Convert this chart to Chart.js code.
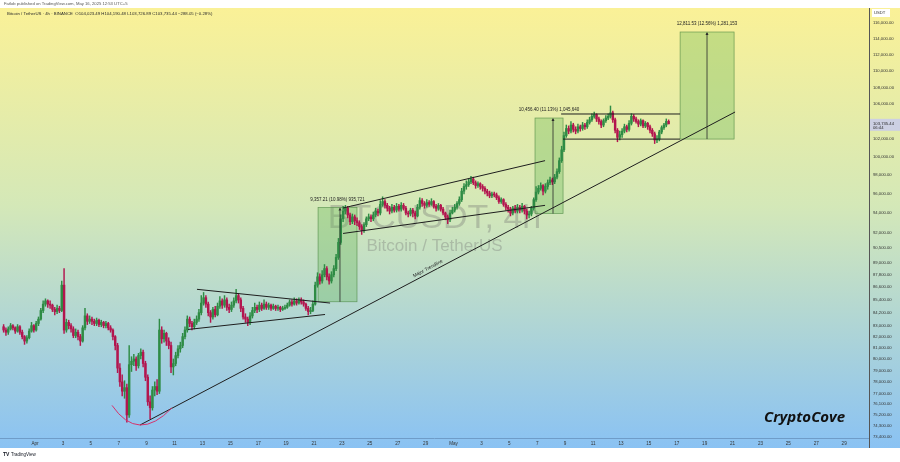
<!DOCTYPE html>
<html>
<head>
<meta charset="utf-8">
<title>BTCUSDT 4h</title>
<script src="https://cdn.jsdelivr.net/npm/chart.js@4.4.1/dist/chart.umd.min.js"></script>
<style>
  html, body { margin: 0; padding: 0; background: #fff; }
  canvas { display: block; }
</style>
</head>
<body>
<canvas id="btcChart" width="900" height="462"></canvas>
<script>
// 4h candles (UTC+5). x unit = days since Apr 1 00:00, first candle = Mar 29 16:00
const firstCandleDay = -2.25;
const candleStep = 1 / 6;
const firstOpen = 82.9; // thousands USDT

// closes / highs / lows in thousands USDT, one row per day
const closes = [
  82.6, 82.4,
  82.7, 83.0, 82.8, 82.5, 82.9, 82.4,
  82.0, 81.6, 81.9, 82.5, 83.0, 82.6,
  83.2, 83.6, 84.4, 85.0, 85.3, 85.0,
  84.9, 84.5, 84.3, 84.6, 84.4, 86.8,
  82.6, 83.3, 83.0, 82.7, 82.1, 82.4,
  82.0, 81.6, 82.8, 83.9, 83.4, 83.6,
  83.4, 83.2, 83.5, 83.1, 83.3, 83.0,
  83.2, 82.8, 82.6, 82.0, 81.2, 79.2,
  78.0, 77.2, 77.5, 75.2, 79.5, 79.8,
  80.0, 79.4, 80.3, 80.6, 79.6, 78.4,
  76.3, 75.8, 77.3, 77.6, 77.2, 82.6,
  81.8, 82.3, 81.6, 81.2, 79.3, 79.6,
  80.3, 80.9, 81.2, 82.0, 82.6, 83.6,
  83.2, 82.9, 83.3, 83.6, 84.2, 85.1,
  85.6, 85.0, 84.2, 83.8, 84.5, 84.0,
  84.8, 85.3, 84.9, 85.4, 84.7, 84.5,
  84.9, 85.3, 85.8, 85.4, 84.6, 83.8,
  83.6, 83.3, 83.9, 84.4, 84.7, 84.5,
  84.9, 84.6, 85.0, 84.7, 84.9, 84.6,
  84.8, 84.6, 84.7, 84.5, 84.6, 84.7,
  84.9, 85.2, 85.0, 85.3, 85.1, 85.4,
  85.2, 85.0, 84.6, 84.3, 84.4, 85.0,
  86.8, 87.6, 87.2, 87.8, 88.4, 87.6,
  87.2, 87.8, 88.4, 89.5, 91.0, 93.4,
  94.2, 94.5, 93.8, 93.1, 93.6, 93.2,
  93.0, 92.6, 92.2, 92.8, 93.4, 93.6,
  93.4, 93.8, 94.2, 94.0, 94.9, 95.2,
  94.8, 94.5, 94.2, 94.6, 94.3, 94.7,
  94.4, 94.8, 94.5, 94.0, 93.9, 94.3,
  94.0, 93.7, 94.6, 95.3, 95.0, 94.8,
  95.1, 94.9, 95.2, 94.7, 94.5, 94.8,
  94.4, 94.0, 93.6, 93.3, 94.0, 94.3,
  94.6, 95.0, 95.4, 96.3, 96.8, 97.0,
  97.3, 97.6, 97.2, 96.9, 97.1, 96.8,
  96.6, 96.3, 96.1, 95.8, 96.0, 95.9,
  95.6, 95.2, 95.4, 94.9, 94.6, 94.4,
  94.0, 94.5, 94.2, 94.6, 94.3, 94.7,
  94.2, 93.8, 93.9, 94.5, 95.4, 96.2,
  96.6, 96.9, 96.3, 96.8, 97.2, 97.5,
  97.3, 97.8, 98.4, 99.6, 100.8, 102.4,
  103.2, 102.9, 103.6, 103.1, 102.9, 103.4,
  103.2, 103.6, 103.4, 103.9, 104.2, 104.6,
  104.8, 104.3, 104.0, 103.6, 104.1, 104.4,
  104.6, 105.0, 104.2, 103.0, 102.2, 102.5,
  102.9, 103.4, 103.1, 103.8, 104.6, 104.3,
  104.0, 103.7, 104.1, 103.5, 103.8, 103.4,
  103.0, 102.6, 101.9, 102.0, 102.8, 103.3,
  103.6, 104.02349, 103.73544
];
const highs = [
  83.1, 82.8,
  82.9, 83.2, 83.1, 82.9, 83.1, 83.0,
  82.6, 82.1, 82.1, 82.7, 83.3, 83.1,
  83.4, 83.8, 84.6, 85.3, 85.5, 85.4,
  85.3, 85.0, 84.7, 84.9, 84.8, 87.2,
  88.4, 83.6, 83.5, 83.2, 82.9, 82.7,
  82.6, 82.2, 83.0, 84.6, 84.1, 83.9,
  83.8, 83.6, 83.7, 83.6, 83.5, 83.4,
  83.4, 83.3, 83.0, 82.7, 82.1, 81.4,
  79.6, 78.6, 78.1, 77.8, 81.2, 80.2,
  80.4, 80.2, 80.5, 80.9, 80.8, 79.8,
  78.6, 76.8, 77.6, 78.0, 78.2, 83.6,
  82.9, 82.6, 82.4, 81.9, 81.5, 80.0,
  80.6, 81.2, 81.5, 82.3, 82.9, 83.9,
  83.8, 83.4, 83.6, 83.9, 84.5, 85.8,
  86.1, 85.8, 85.2, 84.4, 84.7, 84.8,
  85.1, 85.7, 85.5, 85.8, 85.6, 85.0,
  85.2, 85.6, 86.4, 86.0, 85.6, 84.8,
  84.1, 83.8, 84.2, 84.7, 85.1, 84.9,
  85.2, 85.1, 85.4, 85.2, 85.1, 85.0,
  85.0, 84.9, 84.9, 84.8, 84.8, 84.9,
  85.1, 85.4, 85.4, 85.6, 85.5, 85.6,
  85.6, 85.4, 85.1, 84.8, 84.7, 85.3,
  87.1, 88.0, 87.9, 88.2, 88.8, 88.6,
  87.9, 88.1, 88.7, 89.8, 91.4, 93.8,
  94.7, 94.8, 94.7, 94.0, 93.9, 93.8,
  93.5, 93.2, 92.8, 93.0, 93.6, 93.9,
  93.8, 94.1, 94.5, 94.4, 95.3, 95.7,
  95.4, 95.0, 94.7, 94.9, 94.8, 95.0,
  94.9, 95.1, 95.0, 94.7, 94.2, 94.5,
  94.5, 94.2, 94.9, 95.6, 95.5, 95.2,
  95.4, 95.3, 95.5, 95.3, 94.9, 95.0,
  94.9, 94.6, 94.1, 93.8, 94.3, 94.6,
  94.9, 95.2, 95.7, 96.6, 97.1, 97.4,
  97.6, 97.9, 97.8, 97.4, 97.3, 97.2,
  97.0, 96.8, 96.5, 96.3, 96.2, 96.2,
  96.1, 95.8, 95.6, 95.5, 95.1, 94.8,
  94.6, 94.7, 94.8, 94.9, 94.8, 95.0,
  94.8, 94.4, 94.2, 94.7, 95.6, 96.8,
  96.9, 97.2, 97.0, 97.1, 97.5, 97.8,
  97.7, 98.1, 98.7, 99.9, 101.2, 102.8,
  103.6, 103.5, 104.0, 103.8, 103.4, 103.7,
  103.6, 103.9, 103.8, 104.2, 104.5, 104.9,
  105.1, 104.9, 104.5, 104.2, 104.3, 104.7,
  104.9, 105.8, 105.2, 104.4, 103.2, 102.9,
  103.2, 103.7, 103.6, 104.1, 104.9, 104.8,
  104.5, 104.2, 104.3, 104.2, 104.0, 103.9,
  103.6, 103.2, 102.8, 102.4, 103.0, 103.5,
  103.8, 104.3, 104.19048
];
const lows = [
  82.4, 82.1,
  82.2, 82.6, 82.6, 82.3, 82.4, 82.2,
  81.8, 81.3, 81.4, 81.8, 82.4, 82.4,
  82.5, 83.0, 83.5, 84.2, 84.8, 84.7,
  84.6, 84.3, 84.0, 84.1, 84.2, 84.3,
  82.3, 82.4, 82.7, 82.4, 81.9, 81.9,
  81.7, 81.2, 81.5, 82.6, 83.1, 83.2,
  83.1, 83.0, 83.0, 82.9, 82.9, 82.8,
  82.8, 82.6, 82.4, 81.7, 80.8, 78.8,
  77.6, 76.8, 76.6, 74.6, 75.0, 78.9,
  79.4, 79.0, 79.2, 80.0, 79.3, 78.1,
  76.0, 74.9, 75.6, 76.8, 76.9, 77.0,
  81.4, 81.5, 81.2, 80.9, 78.8, 78.6,
  79.4, 80.1, 80.6, 81.0, 81.8, 82.4,
  82.9, 82.6, 82.7, 83.1, 83.4, 84.0,
  84.9, 84.7, 83.9, 83.3, 83.6, 83.8,
  83.9, 84.6, 84.6, 84.7, 84.4, 84.2,
  84.3, 84.7, 85.1, 85.1, 84.3, 83.6,
  83.3, 83.0, 83.1, 83.7, 84.2, 84.2,
  84.3, 84.4, 84.5, 84.5, 84.5, 84.4,
  84.5, 84.4, 84.4, 84.3, 84.4, 84.5,
  84.6, 84.8, 84.8, 84.9, 84.9, 85.0,
  85.0, 84.8, 84.4, 84.0, 84.1, 84.3,
  84.9, 86.6, 86.9, 87.0, 87.6, 87.3,
  86.9, 87.0, 87.6, 88.2, 89.3, 90.8,
  93.1, 93.9, 93.5, 92.8, 92.9, 92.8,
  92.7, 92.3, 91.8, 92.0, 92.6, 93.2,
  93.1, 93.2, 93.6, 93.7, 93.8, 94.7,
  94.5, 94.2, 93.9, 94.0, 94.1, 94.1,
  94.2, 94.2, 94.3, 93.8, 93.6, 93.7,
  93.6, 93.4, 93.6, 94.4, 94.7, 94.5,
  94.6, 94.7, 94.8, 94.5, 94.2, 94.3,
  94.2, 93.8, 93.3, 92.9, 93.1, 93.9,
  94.1, 94.4, 94.8, 95.2, 96.0, 96.5,
  96.8, 97.1, 97.0, 96.6, 96.7, 96.5,
  96.3, 96.0, 95.8, 95.6, 95.6, 95.7,
  95.4, 95.0, 95.0, 94.7, 94.3, 94.1,
  93.7, 93.8, 94.0, 94.0, 94.0, 94.1,
  93.9, 93.4, 93.5, 93.7, 94.3, 95.2,
  96.0, 96.4, 95.9, 96.1, 96.5, 97.0,
  97.0, 97.1, 97.6, 98.2, 99.4, 100.6,
  102.2, 102.6, 102.7, 102.8, 102.6, 102.7,
  102.9, 103.0, 103.1, 103.2, 103.7, 104.0,
  104.4, 104.0, 103.7, 103.3, 103.4, 103.9,
  104.2, 104.4, 103.9, 102.7, 101.7, 101.9,
  102.2, 102.7, 102.8, 102.9, 103.6, 104.0,
  103.8, 103.4, 103.5, 103.3, 103.3, 103.1,
  102.7, 102.3, 101.5, 101.6, 101.8, 102.6,
  103.1, 103.4, 103.72689
];

// axis ticks
const priceTicks = [116000, 114000, 112000, 110000, 108000, 106000, 102000, 100000, 98000, 96000,
  94000, 92000, 90500, 89000, 87800, 86600, 85400, 84200, 83000, 82000, 81000, 80000, 79000,
  78000, 77000, 76100, 75200, 74300, 73400];
const dayTicks = [0, 2, 4, 6, 8, 10, 12, 14, 16, 18, 20, 22, 24, 26, 28,
  30, 32, 34, 36, 38, 40, 42, 44, 46, 48, 50, 52, 54, 56, 58];
const dayLabels = ['Apr', '3', '5', '7', '9', '11', '13', '15', '17', '19', '21', '23', '25', '27', '29',
  'May', '3', '5', '7', '9', '11', '13', '15', '17', '19', '21', '23', '25', '27', '29'];

// drawings in (day, price)
const ranges = [
  { from: 20.29, to: 23.08, low: 85220, high: 94577, arrowAt: 21.86, label: '9,357.21 (10.98%) 935,721' },
  { from: 35.84, to: 37.85, low: 93948, high: 104404, arrowAt: 37.13, label: '10,456.40 (11.13%) 1,045,640' },
  { from: 46.24, to: 50.11, low: 102003, high: 114815, arrowAt: 48.17, label: '12,811.53 (12.56%) 1,281,153' }
];
const lines = [
  [[7.53, 74370], [50.18, 105100]],   // major trendline
  [[11.61, 86400], [21.15, 85100]],   // triangle top
  [[10.97, 82650], [20.79, 84030]],   // triangle bottom
  [[22.08, 94520], [36.56, 99600]],   // channel top
  [[22.08, 91900], [36.56, 94800]],   // channel bottom
  [[37.71, 104870], [46.24, 104870]], // range top
  [[37.85, 102000], [46.24, 102000]]  // range bottom
];
const arc = [[5.52, 76000], [7.53, 74370], [9.82, 75800]];

const lastPrice = 103735.44;
const upColor = '#2f8c45';
const downColor = '#b3164f';

const fmtPrice = v => v.toLocaleString('en-US', { minimumFractionDigits: 2, maximumFractionDigits: 2 });

const opens = closes.map((c, i) => (i === 0 ? firstOpen : closes[i - 1]));
const centres = closes.map((c, i) => firstCandleDay + i * candleStep);
const colours = closes.map((c, i) => (c >= opens[i] ? upColor : downColor));
const wickData = centres.map((x, i) => ({ x: x, y: [lows[i] * 1000, highs[i] * 1000] }));
const bodyData = centres.map((x, i) => ({
  x: x,
  y: [Math.min(opens[i], closes[i]) * 1000, Math.max(opens[i], closes[i]) * 1000]
}));

const pt = (chart, d, p) => [chart.scales.x.getPixelForValue(d), chart.scales.y.getPixelForValue(p)];

const tvPlugin = {
  id: 'tvLook',
  beforeDraw(chart) {
    const { ctx, width, height, chartArea } = chart;
    ctx.save();
    ctx.fillStyle = '#ffffff';
    ctx.fillRect(0, 0, width, height);
    const bottom = chartArea.bottom + 10;
    const g = ctx.createLinearGradient(0, chartArea.top, 0, bottom);
    g.addColorStop(0, '#faf197');
    g.addColorStop(0.45, '#d4e8b8');
    g.addColorStop(1, '#8ac2f3');
    ctx.fillStyle = g;
    ctx.fillRect(0, chartArea.top, width, bottom - chartArea.top);
    // axis separators
    ctx.strokeStyle = '#6f9cc8';
    ctx.lineWidth = 1;
    ctx.beginPath();
    ctx.moveTo(0, chartArea.bottom + 0.5);
    ctx.lineTo(chartArea.right, chartArea.bottom + 0.5);
    ctx.stroke();
    ctx.strokeStyle = '#555';
    ctx.beginPath();
    ctx.moveTo(chartArea.right + 0.5, chartArea.top);
    ctx.lineTo(chartArea.right + 0.5, bottom);
    ctx.stroke();
    ctx.restore();
  },
  beforeDatasetsDraw(chart) {
    const { ctx, chartArea } = chart;
    ctx.save();
    // watermark
    const cx = (chartArea.left + chartArea.right) / 2;
    const cy = (chartArea.top + chartArea.bottom) / 2;
    ctx.fillStyle = 'rgba(110, 110, 110, 0.33)';
    ctx.textAlign = 'center';
    ctx.textBaseline = 'alphabetic';
    ctx.font = '34px "Liberation Sans", Arial, sans-serif';
    ctx.fillText('BTCUSDT, 4h', cx, cy + 5);
    ctx.font = '17px "Liberation Sans", Arial, sans-serif';
    ctx.fillText('Bitcoin / TetherUS', cx, cy + 28);
    // range boxes
    ranges.forEach(r => {
      const [x1, y1] = pt(chart, r.from, r.high);
      const [x2, y2] = pt(chart, r.to, r.low);
      ctx.fillStyle = 'rgba(96, 180, 80, 0.32)';
      ctx.fillRect(x1, y1, x2 - x1, y2 - y1);
      ctx.strokeStyle = 'rgba(70, 130, 60, 0.75)';
      ctx.lineWidth = 0.7;
      ctx.strokeRect(x1, y1, x2 - x1, y2 - y1);
    });
    ctx.restore();
  },
  afterDatasetsDraw(chart) {
    const { ctx } = chart;
    ctx.save();
    ctx.strokeStyle = '#1e1e1e';
    ctx.lineWidth = 1;
    lines.forEach(l => {
      const [ax, ay] = pt(chart, l[0][0], l[0][1]);
      const [bx, by] = pt(chart, l[1][0], l[1][1]);
      ctx.beginPath();
      ctx.moveTo(ax, ay);
      ctx.lineTo(bx, by);
      ctx.stroke();
    });
    // arrows and labels of the ranges
    ranges.forEach(r => {
      const [ax, top] = pt(chart, r.arrowAt, r.high);
      const [, bot] = pt(chart, r.arrowAt, r.low);
      ctx.strokeStyle = '#2a2a2a';
      ctx.lineWidth = 0.8;
      ctx.beginPath();
      ctx.moveTo(ax, bot);
      ctx.lineTo(ax, top + 1);
      ctx.stroke();
      ctx.fillStyle = '#2a2a2a';
      ctx.beginPath();
      ctx.moveTo(ax, top);
      ctx.lineTo(ax - 1.5, top + 3);
      ctx.lineTo(ax + 1.5, top + 3);
      ctx.closePath();
      ctx.fill();
      const [x1] = pt(chart, r.from, r.high);
      const [x2] = pt(chart, r.to, r.high);
      ctx.font = '4.5px "Liberation Sans", Arial, sans-serif';
      ctx.textAlign = 'center';
      ctx.textBaseline = 'middle';
      ctx.fillStyle = '#222';
      ctx.fillText(r.label, (x1 + x2) / 2, top - 8);
    });
    // red arc under the double bottom
    const a = pt(chart, arc[0][0], arc[0][1]);
    const m = pt(chart, arc[1][0], arc[1][1]);
    const b = pt(chart, arc[2][0], arc[2][1]);
    ctx.strokeStyle = '#d6336c';
    ctx.lineWidth = 1;
    ctx.beginPath();
    ctx.moveTo(a[0], a[1]);
    ctx.quadraticCurveTo(2 * m[0] - (a[0] + b[0]) / 2, 2 * m[1] - (a[1] + b[1]) / 2, b[0], b[1]);
    ctx.stroke();
    // trendline caption
    const [tx1, ty1] = pt(chart, lines[0][0][0], lines[0][0][1]);
    const [tx2, ty2] = pt(chart, lines[0][1][0], lines[0][1][1]);
    const ang = Math.atan2(ty2 - ty1, tx2 - tx1);
    const tx = 430, ty = ty1 + (ty2 - ty1) * (430 - tx1) / (tx2 - tx1);
    ctx.translate(tx, ty);
    ctx.rotate(ang);
    ctx.font = '4.8px "Liberation Sans", Arial, sans-serif';
    ctx.textAlign = 'center';
    ctx.textBaseline = 'bottom';
    ctx.fillStyle = '#222';
    ctx.fillText('Major Trendline', 0, -2);
    ctx.restore();
  },
  afterDraw(chart) {
    const { ctx, chartArea } = chart;
    ctx.save();
    ctx.textBaseline = 'middle';
    ctx.textAlign = 'left';
    ctx.fillStyle = '#555';
    ctx.font = '4.2px "Liberation Sans", Arial, sans-serif';
    ctx.fillText('Fatlob published on TradingView.com, May 16, 2025 12:53 UTC+5', 4, 4);
    ctx.fillStyle = '#2a2a2a';
    ctx.font = '4.3px "Liberation Sans", Arial, sans-serif';
    ctx.fillText('Bitcoin / TetherUS \u00b7 4h \u00b7 BINANCE  O104,023.49 H104,190.48 L103,726.89 C103,735.44 \u2212288.05 (\u22120.28%)', 7, 14);
    // USDT box
    const rx = chartArea.right + 2;
    ctx.fillStyle = '#ffffff';
    ctx.fillRect(rx + 1, 9, 18, 8);
    ctx.fillStyle = '#333';
    ctx.font = '4.2px "Liberation Sans", Arial, sans-serif';
    ctx.fillText('USDT', rx + 3, 13);
    // last price label
    const ly = chart.scales.y.getPixelForValue(lastPrice);
    ctx.fillStyle = '#ccd0e3';
    ctx.fillRect(rx - 1, ly - 5, 31, 12);
    ctx.fillStyle = '#2a2a2a';
    ctx.fillText(fmtPrice(lastPrice), rx + 2, ly);
    ctx.fillText('06:44', rx + 2, ly + 4.5);
    // signature
    ctx.fillStyle = '#111';
    ctx.font = 'italic bold 15px "Open Sans", "DejaVu Sans", sans-serif';
    ctx.fillText('CryptoCove', 764, 418);
    // TradingView mark
    ctx.fillStyle = '#131722';
    ctx.font = 'bold 5px "Liberation Sans", Arial, sans-serif';
    ctx.fillText('TV', 3, 455);
    ctx.font = '4.5px "Liberation Sans", Arial, sans-serif';
    ctx.fillText('TradingView', 11, 455);
    ctx.restore();
  }
};

new Chart(document.getElementById('btcChart').getContext('2d'), {
  type: 'bar',
  data: {
    datasets: [
      { data: wickData, backgroundColor: colours, barThickness: 0.8, grouped: false },
      { data: bodyData, backgroundColor: colours, barThickness: 1.8, grouped: false, minBarLength: 1 }
    ]
  },
  options: {
    responsive: false,
    animation: false,
    layout: { padding: { top: 8, bottom: 14, left: 0, right: 0 } },
    plugins: { legend: { display: false }, tooltip: { enabled: false } },
    scales: {
      x: {
        type: 'linear',
        min: -2.509,
        max: 59.78,
        offset: false,
        grid: { display: false, drawTicks: false },
        border: { display: false },
        afterBuildTicks: s => { s.ticks = dayTicks.map(v => ({ value: v })); },
        afterFit: s => { s.height = 10; },
        ticks: {
          autoSkip: false,
          maxRotation: 0,
          padding: 3,
          color: '#333',
          font: { size: 4.6, family: '"Liberation Sans", Arial, sans-serif' },
          callback: (v, i) => dayLabels[i]
        }
      },
      y: {
        type: 'logarithmic',
        position: 'right',
        min: 73310,
        max: 117900,
        bounds: 'data',
        grid: { display: false, drawTicks: false },
        border: { display: false },
        afterBuildTicks: s => { s.ticks = priceTicks.map(v => ({ value: v })); },
        afterFit: s => { s.width = 31; },
        ticks: {
          autoSkip: false,
          padding: 4,
          color: '#333',
          font: { size: 4.2, family: '"Liberation Sans", Arial, sans-serif' },
          callback: v => fmtPrice(v)
        }
      }
    }
  },
  plugins: [tvPlugin]
});
</script>
</body>
</html>
